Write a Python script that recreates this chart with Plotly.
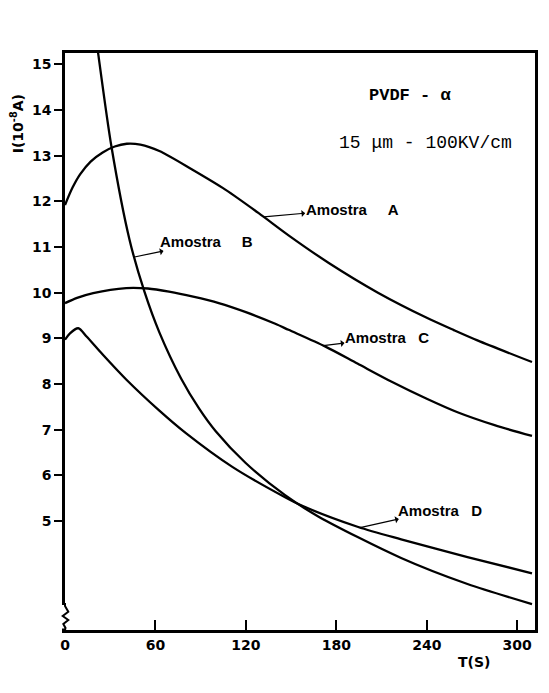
import plotly.graph_objects as go

# ---- data ----
t_a = [0, 5, 10, 17, 25, 33, 41, 50, 62.6, 84.6, 106.6, 128.5, 148.3, 175, 207.6, 240, 258, 273.6, 309.8]
i_a = [11.92, 12.30, 12.59, 12.87, 13.07, 13.20, 13.26, 13.24, 13.10, 12.69, 12.25, 11.74, 11.255, 10.65, 10.0, 9.45, 9.18, 8.955, 8.48]

t_b = [21, 22, 30.8, 42.8, 52.7, 62.6, 77, 89, 100, 119.7, 146, 168, 223, 267, 309.8]
i_b = [15.49, 15.24, 13.20, 11.16, 10.02, 9.13, 8.12, 7.46, 6.965, 6.275, 5.565, 5.10, 4.19, 3.62, 3.18]

t_c = [0, 8, 18.7, 40.6, 55, 69, 85, 102, 120, 139.5, 148.3, 172.5, 194, 216.4, 240, 260.4, 285, 309.8]
i_c = [9.77, 9.885, 9.99, 10.10, 10.09, 10.02, 9.91, 9.77, 9.572, 9.318, 9.186, 8.823, 8.447, 8.055, 7.677, 7.381, 7.098, 6.862]

t_d = [0, 3.3, 8.8, 14.3, 25, 40.6, 62.6, 80.2, 111, 146, 157, 194.5, 223, 267, 309.8]
i_d = [8.97, 9.11, 9.22, 9.04, 8.644, 8.098, 7.416, 6.923, 6.184, 5.519, 5.337, 4.868, 4.597, 4.21, 3.855]

x_ticks = [0, 60, 120, 180, 240, 300]
x_ticktext = ["0", "60", "120", "180", "240", "300"]
y_ticks = [5, 6, 7, 8, 9, 10, 11, 12, 13, 14, 15]
y_ticktext = [str(v) for v in y_ticks]

series = [(t_a, i_a), (t_b, i_b), (t_c, i_c), (t_d, i_d)]

fig = go.Figure()
for t, i in series:
    fig.add_trace(go.Scatter(
        x=t, y=i, mode="lines",
        line=dict(color="black", width=2.3, shape="spline", smoothing=0.8),
        showlegend=False, hoverinfo="skip"))

lab_font = dict(family="Liberation Sans", size=15, color="black", weight="bold")
tick_font = dict(family="DejaVu Sans", size=14, color="black", weight="bold")
nb = "\u00a0"

# sample labels: text centre (ax, ay), leader to point on curve (x, y)
labels = [
    ("Amostra" + nb * 5 + "A", 190.5, 11.83, 131.8, 11.66),
    ("Amostra" + nb * 5 + "B", 93.9, 11.11, 46.1, 10.78),
    ("Amostra" + nb * 3 + "C", 213.6, 9.01, 171.4, 8.84),
    ("Amostra" + nb * 3 + "D", 248.5, 5.24, 195.8, 4.856),
]
annotations = []
for txt, tx, ty, px, py in labels:
    annotations.append(dict(
        x=px, y=py, ax=tx, ay=ty, axref="x", ayref="y", text=txt, font=lab_font,
        showarrow=True, arrowhead=2, arrowside="start", arrowsize=0.9,
        arrowwidth=1.2, arrowcolor="black", standoff=0, startstandoff=0, borderpad=0))

annotations += [
    dict(x=228.7, y=14.31, text="PVDF - \u03b1", showarrow=False, xanchor="center", yanchor="middle",
         font=dict(family="Liberation Mono", size=17, color="black", weight="bold")),
    dict(x=239.3, y=13.28, text="15 \u03bcm - 100KV/cm", showarrow=False, xanchor="center", yanchor="middle",
         font=dict(family="Liberation Mono", size=18, color="black")),
    dict(x=271.6, y=-0.0555, xref="x", yref="paper", text="T(S)", showarrow=False,
         xanchor="center", yanchor="middle", font=tick_font),
    dict(x=-0.1015, y=0.877, xref="paper", yref="paper", text="I(10<sup>-8</sup>A)",
         textangle=-90, showarrow=False, xanchor="center", yanchor="middle", font=tick_font),
]

# axis break symbol on the lower left axis
W, H = 473.0, 577.0
pts = [(0, 27), (0, 24), (3.3, 18.3), (-2.3, 14), (3.3, 10), (-1.7, 6), (0.5, 2), (0, 0)]
path = "M " + " L ".join(f"{dx / W:.5f},{dy / H:.5f}" for dx, dy in pts)
shapes = [
    dict(type="rect", xref="paper", yref="paper", x0=-5 / W, x1=5 / W, y0=1.5 / H, y1=25 / H,
         fillcolor="white", line=dict(width=0), layer="above"),
    dict(type="path", xref="paper", yref="paper", path=path,
         line=dict(color="black", width=2), layer="above"),
]

fig.update_layout(
    width=549, height=693,
    margin=dict(l=65, r=11, t=53, b=63),
    paper_bgcolor="white", plot_bgcolor="white",
    annotations=annotations, shapes=shapes,
    xaxis=dict(range=[0, 311.8], tickvals=x_ticks, ticktext=x_ticktext,
               ticks="inside", ticklen=10, tickwidth=2, tickcolor="black",
               showline=True, linewidth=2.5, linecolor="black", mirror=True,
               showgrid=False, zeroline=False, tickfont=tick_font),
    yaxis=dict(range=[2.613, 15.247], tickvals=y_ticks, ticktext=y_ticktext,
               ticks="outside", ticklen=8, tickwidth=2, tickcolor="black",
               showline=True, linewidth=2.5, linecolor="black", mirror=True,
               showgrid=False, zeroline=False, tickfont=tick_font),
)

fig.write_html("out.html", config={"displayModeBar": False},
               post_script="document.body.style.margin='0';document.body.style.overflow='hidden';")
